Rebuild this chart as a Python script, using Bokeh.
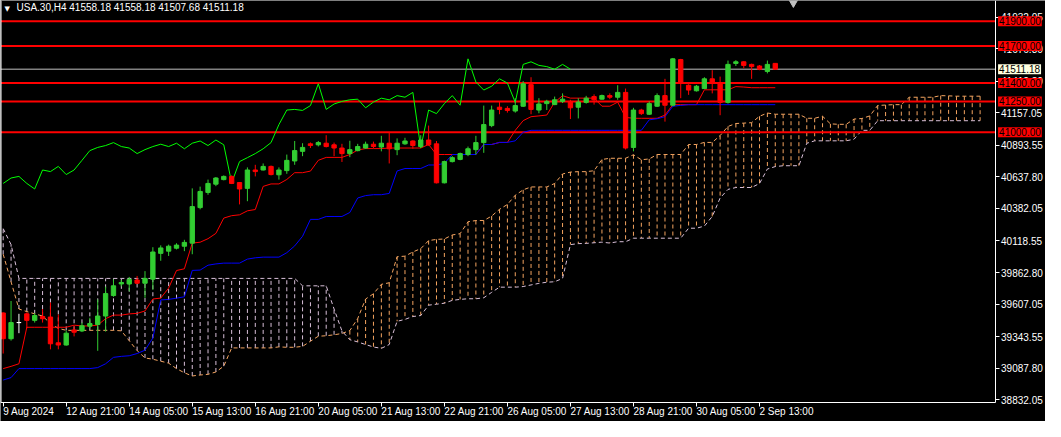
import numpy as np
import pandas as pd
from bokeh.plotting import figure
from bokeh.models import Range1d, FixedTicker, PrintfTickFormatter, Label, LinearAxis, ColumnDataSource
from bokeh.embed import file_html
from bokeh.resources import INLINE

symbol = "USA.30,H4"
time_labels = ["9 Aug 2024", "12 Aug 21:00", "14 Aug 05:00", "15 Aug 13:00", "16 Aug 21:00",
               "20 Aug 05:00", "21 Aug 13:00", "22 Aug 21:00", "26 Aug 05:00", "27 Aug 13:00",
               "28 Aug 21:00", "30 Aug 05:00", "2 Sep 13:00"]
price_ticks = [38832.05, 39087.80, 39343.55, 39607.05, 39862.80, 40118.55, 40382.05,
               40637.80, 40893.55, 41157.05, 41412.80, 41676.30, 41932.05]
levels = [41900, 41700, 41400, 41250, 41000]

# H4 bars, oldest first
open_ = [39535, 39326, 39457, 39528, 39475, 39506, 39502, 39293, 39275, 39397,
         39389, 39428, 39441, 39510, 39676, 39770, 39770, 39802, 39776, 39809,
         40018, 40036, 40060, 40076, 40101, 40389, 40512, 40579, 40616, 40642,
         40592, 40545, 40694, 40694, 40723, 40655, 40689, 40767, 40845, 40906,
         40898, 40911, 40898, 40872, 40827, 40851, 40872, 40903, 40880, 40911,
         40859, 40906, 40929, 40884, 40937, 40906, 40590, 40762, 40780, 40819,
         40859, 40916, 41054, 41203, 41193, 41172, 41211, 41386, 41180, 41232,
         41224, 41250, 41250, 41203, 41242, 41289, 41268, 41297, 41284, 41323,
         40877, 41180, 41146, 41211, 41297, 41219, 41589, 41381, 41336, 41354,
         41433, 41399, 41242, 41558, 41571, 41550, 41537, 41493, 41558.18]
high = [39540, 39632, 39528, 39540, 39533, 39567, 39619, 39522, 39392, 39431,
        39457, 39496, 39645, 39749, 39807, 39802, 39827, 39835, 39874, 40068,
        40083, 40089, 40100, 40128, 40545, 40559, 40616, 40637, 40650, 40650,
        40595, 40715, 40736, 40747, 40730, 40715, 40819, 40929, 40911, 40917,
        40929, 40976, 40916, 40906, 40931, 40906, 40924, 40924, 40971, 40997,
        40950, 40955, 40935, 40976, 41054, 40929, 40770, 40806, 40835, 40884,
        40971, 41216, 41216, 41250, 41211, 41276, 41415, 41446, 41276, 41263,
        41289, 41315, 41263, 41276, 41295, 41307, 41305, 41315, 41381, 41354,
        41198, 41190, 41250, 41315, 41433, 41602, 41595, 41389, 41383, 41446,
        41503, 41451, 41581, 41584, 41575, 41556, 41545, 41581, 41558.18]
low = [39206, 39311, 39371, 39410, 39457, 39457, 39240, 39240, 39270, 39345,
       39380, 39410, 39228, 39384, 39666, 39750, 39710, 39770, 39658, 39723,
       39958, 39997, 40050, 40036, 40011, 40375, 40493, 40563, 40610, 40580,
       40415, 40441, 40642, 40690, 40650, 40616, 40663, 40736, 40806, 40872,
       40885, 40877, 40806, 40759, 40798, 40845, 40866, 40870, 40845, 40747,
       40814, 40898, 40866, 40877, 40890, 40585, 40585, 40755, 40773, 40806,
       40819, 40833, 41041, 41146, 41159, 41159, 41205, 41146, 41154, 41180,
       41220, 41237, 41107, 41112, 41232, 41224, 41265, 41268, 41263, 40860,
       40845, 41140, 41140, 41205, 41086, 41210, 41276, 41303, 41330, 41350,
       41315, 41138, 41232, 41537, 41519, 41433, 41503, 41477, 41507.68]
close = [39326, 39457, 39457, 39475, 39514, 39488, 39285, 39275, 39371, 39379,
         39431, 39449, 39510, 39692, 39755, 39782, 39807, 39776, 39815, 40029,
         40062, 40076, 40085, 40107, 40397, 40520, 40585, 40629, 40642, 40585,
         40540, 40694, 40681, 40723, 40657, 40694, 40772, 40851, 40877, 40892,
         40916, 40884, 40872, 40827, 40859, 40884, 40903, 40884, 40911, 40866,
         40911, 40929, 40892, 40937, 40898, 40590, 40762, 40794, 40827, 40866,
         40916, 41062, 41180, 41185, 41177, 41216, 41393, 41185, 41229, 41250,
         41263, 41268, 41198, 41245, 41276, 41263, 41297, 41284, 41323, 40872,
         41180, 41151, 41232, 41297, 41219, 41595, 41407, 41342, 41373, 41433,
         41399, 41242, 41550, 41571, 41542, 41532, 41511, 41550, 41511.18]

# indicator values before enough history is on the chart
tenkan_head = [39084, 39102, 39123, 39419, 39419, 39419, 39419, 39419]
kijun_head = [38991, 39011, 39084, 39084, 39084, 39084, 39084, 39084, 39084, 39084,
              39084, 39084, 39092, 39123, 39175, 39183, 39188, 39206, 39233, 39332,
              39640, 39645, 39655, 39666, 39880]
span_a_head = [40011, 39788, 39567, 39546, 39528, 39510, 39449, 39410, 39394, 39394,
               39394, 39394, 39394, 39394, 39394, 39390, 39310, 39230, 39170, 39160,
               39144, 39128, 39084, 39050, 39024, 39032]
span_b_head = [40219, 40089] + [39815] * 36 + [39755] * 4 + \
              [39567, 39389, 39318, 39300, 39279, 39259, 39248, 39279, 39467, 39483,
               39506, 39514, 39598, 39606, 39614, 39637, 39645, 39650, 39650, 39658,
               39702, 39744, 39744, 39744, 39749, 39762, 39775, 39784, 39788, 39815,
               40089, 40097, 40099, 40104, 40109]

df = pd.DataFrame(dict(open=open_, high=high, low=low, close=close))
n = len(df)
shift = 26
df['x'] = np.arange(n)

# ichimoku
df['tenkan'] = (df['high'].rolling(9).max() + df['low'].rolling(9).min()) / 2
df.loc[0:len(tenkan_head) - 1, 'tenkan'] = tenkan_head
df['kijun'] = (df['high'].rolling(26).max() + df['low'].rolling(26).min()) / 2
df.loc[0:len(kijun_head) - 1, 'kijun'] = kijun_head
mid52 = ((df['high'].rolling(52).max() + df['low'].rolling(52).min()) / 2).values

cloud_x = np.arange(n + shift)
span_a = np.empty(n + shift)
span_a[:len(span_a_head)] = span_a_head
span_a[shift:] = ((df['tenkan'] + df['kijun']) / 2).values
span_b = np.empty(n + shift)
span_b[:len(span_b_head)] = span_b_head
span_b[len(span_b_head):] = mid52[len(span_b_head) - shift:]
cloud_color = np.where(span_a >= span_b, '#F4A460', '#D8BFD8')

# candle colours: up green, down red, doji white
df['top'] = df[['open', 'close']].max(axis=1)
df['bottom'] = df[['open', 'close']].min(axis=1)
df['color'] = np.where(df['close'] > df['open'], '#32CD32',
                       np.where(df['close'] < df['open'], '#FF0000', '#FFFFFF'))

# the frame covers the whole window, the axes sit inside it (MT4 style)
x0, x1 = -0.34, 132.3
y0, y1 = 38655, 42068
axis_x = 125.9      # price scale line
axis_y = 38811      # time scale line
FONT = "Liberation Sans"

p = figure(width=1045, height=421, output_backend="svg", toolbar_location=None,
           x_range=Range1d(x0, x1), y_range=Range1d(y0, y1),
           x_axis_type=None, y_axis_type=None,
           background_fill_color="black", border_fill_color="black", outline_line_color=None,
           min_border_left=0, min_border_top=0, min_border_right=0, min_border_bottom=0)
p.grid.visible = False

xt = list(range(0, 8 * len(time_labels), 8))
xaxis = LinearAxis(fixed_location=axis_y, bounds=(x0, axis_x), ticker=FixedTicker(ticks=xt),
                   major_label_overrides={t: "" for t in xt})
yaxis = LinearAxis(fixed_location=axis_x, bounds=(axis_y, y1), ticker=FixedTicker(ticks=price_ticks),
                   formatter=PrintfTickFormatter(format="%.2f"))
laxis = LinearAxis(fixed_location=x0, bounds=(axis_y, y1), ticker=FixedTicker(ticks=[]),
                   axis_line_width=2)
for ax in (xaxis, yaxis, laxis):
    ax.axis_line_color = "white"
    ax.major_tick_line_color = "white"
    ax.major_tick_out = 4
    ax.major_tick_in = 0
    ax.minor_tick_line_color = None
    ax.major_label_text_color = "white"
    ax.major_label_text_font = FONT
    ax.major_label_text_font_size = "10px"
    ax.major_label_standoff = 2
laxis.major_label_text_font_size = "0px"
p.add_layout(xaxis, "below")
p.add_layout(yaxis, "right")
p.add_layout(laxis, "left")

# time labels start at their tick
for t, s in zip(xt, time_labels):
    p.add_layout(Label(x=t, y=axis_y, y_offset=-4, text=s, text_font=FONT, text_font_size="10px",
                       text_color="white", text_baseline="top", text_align="left"))

# cloud
p.segment(x0=cloud_x, y0=span_a, x1=cloud_x, y1=span_b, line_color=cloud_color,
          line_width=1, line_dash="4 3")
p.line(cloud_x, span_a, line_color='#F4A460', line_width=1, line_dash="4 3")
p.line(cloud_x, span_b, line_color='#D8BFD8', line_width=1, line_dash="4 3")

# levels and price line
last = df.iloc[-1]
p.segment(x0=[x0], y0=[last['close']], x1=[axis_x], y1=[last['close']], line_color='#C0C0C0', line_width=1)
p.segment(x0=[x0] * len(levels), y0=levels, x1=[axis_x] * len(levels), y1=levels,
          line_color='#FF0000', line_width=2)

# tenkan / kijun / chikou
p.line(df['x'], df['tenkan'], line_color='#FF0000', line_width=1)
p.line(df['x'], df['kijun'], line_color='#0000FF', line_width=1)
p.line(df['x'][:-shift], df['close'][shift:].values, line_color='#00FF00', line_width=1)

# candles on top
src = ColumnDataSource(df)
p.segment(x0='x', y0='low', x1='x', y1='high', line_color='color', line_width=1, source=src)
p.vbar(x='x', width=0.55, top='top', bottom='bottom', fill_color='color', line_color='color',
       line_width=1, source=src)

for lv in levels:
    p.add_layout(Label(x=axis_x, y=lv, x_offset=3, text=f"{lv:.2f}", text_font=FONT,
                       text_font_size="10px", text_color="black", text_baseline="middle",
                       background_fill_color="#FF0000", padding=1))
p.add_layout(Label(x=axis_x, y=last['close'], x_offset=3, text=f"{last['close']:.2f}", text_font=FONT,
                   text_font_size="10px", text_color="black", text_baseline="middle",
                   background_fill_color="#FFFFE0", padding=1))

# chart shift marker
p.scatter(x=[n + 1.3], y=[y1], marker="inverted_triangle", size=12, color="#C0C0C0")

title = f"{symbol}  {last['open']:.2f} {last['high']:.2f} {last['low']:.2f} {last['close']:.2f}"
p.add_layout(Label(x=x0, y=y1, x_offset=4, y_offset=-4, text="\u25bc", text_font="DejaVu Sans",
                   text_font_size="7px", text_color="white", text_baseline="top"))
p.add_layout(Label(x=x0, y=y1, x_offset=16, y_offset=-1, text=title, text_font=FONT,
                   text_font_size="10px", text_color="white", text_baseline="top"))

open("out.html", "w").write(file_html(p, INLINE))
